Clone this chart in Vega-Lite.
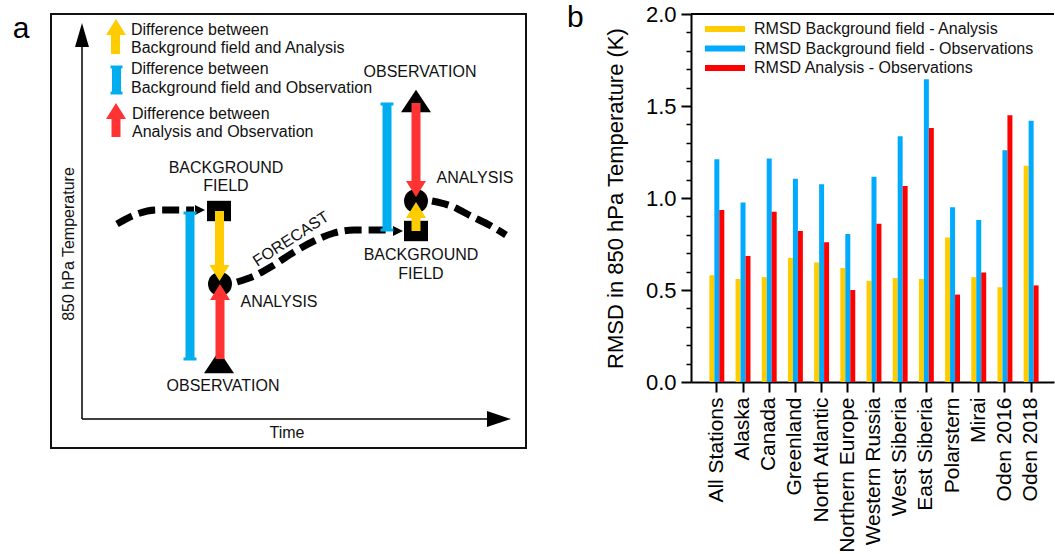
{
  "$schema": "https://vega.github.io/schema/vega-lite/v6.json",
  "background": "white",
  "padding": {"left": 11, "top": 3, "right": 0, "bottom": 0},
  "config": {
    "font": "Liberation Sans",
    "view": {"stroke": null},
    "axis": {"labelColor": "#000", "titleColor": "#000", "domainColor": "#000", "tickColor": "#000"}
  },
  "spacing": 165,
  "bounds": "flush",
  "resolve": {"scale": {"color": "independent"}, "legend": {"color": "independent"}},
  "hconcat": [
    {
      "width": 475,
      "height": 434,
      "view": {"stroke": "#111", "strokeWidth": 2},
      "title": {"text": "a", "orient": "left", "anchor": "end", "angle": 0, "fontSize": 30, "fontWeight": "normal", "offset": 5, "align": "right", "baseline": "top", "color": "#000"},
      "data": {"values": [
        {"kind": "axis", "x": 31, "y": 29, "x2": 31, "y2": 401},
        {"kind": "axis", "x": 31, "y": 29, "x2": 437, "y2": 29},
        {"kind": "headUp", "x": 31, "y": 413},
        {"kind": "headRight", "x": 448, "y": 29},
        {"kind": "curve", "seg": 1, "i": 1, "x": 66, "y": 224},
        {"kind": "curve", "seg": 1, "i": 2, "x": 86, "y": 234},
        {"kind": "curve", "seg": 1, "i": 3, "x": 106, "y": 238},
        {"kind": "curve", "seg": 1, "i": 4, "x": 133, "y": 238},
        {"kind": "curve", "seg": 1, "i": 5, "x": 143, "y": 238},
        {"kind": "curve", "seg": 2, "i": 1, "x": 186, "y": 166},
        {"kind": "curve", "seg": 2, "i": 2, "x": 203, "y": 172},
        {"kind": "curve", "seg": 2, "i": 3, "x": 223, "y": 183},
        {"kind": "curve", "seg": 2, "i": 4, "x": 243, "y": 196},
        {"kind": "curve", "seg": 2, "i": 5, "x": 263, "y": 207},
        {"kind": "curve", "seg": 2, "i": 6, "x": 283, "y": 215},
        {"kind": "curve", "seg": 2, "i": 7, "x": 303, "y": 218},
        {"kind": "curve", "seg": 2, "i": 8, "x": 338, "y": 218},
        {"kind": "curve", "seg": 3, "i": 1, "x": 381, "y": 247},
        {"kind": "curve", "seg": 3, "i": 2, "x": 400, "y": 242},
        {"kind": "curve", "seg": 3, "i": 3, "x": 420, "y": 232},
        {"kind": "curve", "seg": 3, "i": 4, "x": 440, "y": 222},
        {"kind": "curve", "seg": 3, "i": 5, "x": 455, "y": 213},
        {"kind": "curveHead", "x": 149, "y": 238},
        {"kind": "curveHead", "x": 347, "y": 217},
        {"kind": "square", "x": 168, "y": 237},
        {"kind": "square", "x": 365, "y": 217},
        {"kind": "circle", "x": 169, "y": 164},
        {"kind": "circle", "x": 365, "y": 247},
        {"kind": "obs", "x": 168, "y": 86},
        {"kind": "obs", "x": 365, "y": 347},
        {"kind": "shaft", "diff": "BA", "x": 64.5, "y": 394, "y2": 421},
        {"kind": "shaft", "diff": "BO", "x": 65.5, "y": 355, "y2": 381},
        {"kind": "shaft", "diff": "AO", "x": 65, "y": 311, "y2": 337},
        {"kind": "shaft", "diff": "BO", "x": 139, "y": 89, "y2": 235},
        {"kind": "shaft", "diff": "BA", "x": 168.5, "y": 180, "y2": 237},
        {"kind": "shaft", "diff": "AO", "x": 169, "y": 89, "y2": 156},
        {"kind": "shaft", "diff": "BO", "x": 336, "y": 218, "y2": 344},
        {"kind": "shaft", "diff": "AO", "x": 365, "y": 262, "y2": 345},
        {"kind": "shaft", "diff": "BA", "x": 365, "y": 217, "y2": 238},
        {"kind": "cap", "diff": "BO", "x": 59.5, "x2": 71.5, "y": 381},
        {"kind": "cap", "diff": "BO", "x": 59.5, "x2": 71.5, "y": 355},
        {"kind": "cap", "diff": "BO", "x": 132.5, "x2": 145.5, "y": 235},
        {"kind": "cap", "diff": "BO", "x": 132.5, "x2": 145.5, "y": 89},
        {"kind": "cap", "diff": "BO", "x": 329.5, "x2": 342.5, "y": 344},
        {"kind": "cap", "diff": "BO", "x": 329.5, "x2": 342.5, "y": 218},
        {"kind": "headU", "diff": "BA", "x": 65, "y": 421},
        {"kind": "headU", "diff": "AO", "x": 65, "y": 337},
        {"kind": "headU", "diff": "AO", "x": 169, "y": 156},
        {"kind": "headU", "diff": "BA", "x": 365, "y": 238},
        {"kind": "headD", "diff": "BA", "x": 168.5, "y": 175},
        {"kind": "headD", "diff": "AO", "x": 365, "y": 259},
        {"kind": "label", "text": "BACKGROUND", "x": 175, "y": 280},
        {"kind": "label", "text": "FIELD", "x": 175, "y": 262},
        {"kind": "label", "text": "ANALYSIS", "x": 228, "y": 146},
        {"kind": "label", "text": "OBSERVATION", "x": 172, "y": 62},
        {"kind": "label", "text": "OBSERVATION", "x": 369, "y": 376},
        {"kind": "label", "text": "ANALYSIS", "x": 424, "y": 270},
        {"kind": "label", "text": "BACKGROUND", "x": 370, "y": 193},
        {"kind": "label", "text": "FIELD", "x": 370, "y": 174},
        {"kind": "label", "text": "Time", "x": 236, "y": 15},
        {"kind": "legendText", "text": "Difference between", "x": 80, "y": 418},
        {"kind": "legendText", "text": "Background field and Analysis", "x": 80, "y": 400},
        {"kind": "legendText", "text": "Difference between", "x": 80, "y": 379},
        {"kind": "legendText", "text": "Background field and Observation", "x": 80, "y": 360},
        {"kind": "legendText", "text": "Difference between", "x": 81, "y": 334},
        {"kind": "legendText", "text": "Analysis and Observation", "x": 81, "y": 316},
        {"kind": "yTitle", "text": "850 hPa Temperature", "x": 18, "y": 204},
        {"kind": "forecast", "text": "FORECAST", "x": 240, "y": 209}
      ]},
      "encoding": {
        "x": {"field": "x", "type": "quantitative", "scale": {"domain": [0, 475], "nice": false, "zero": false}, "axis": null},
        "y": {"field": "y", "type": "quantitative", "scale": {"domain": [0, 434], "nice": false, "zero": false}, "axis": null}
      },
      "layer": [
        {"transform": [{"filter": "datum.kind === 'axis'"}], "mark": {"type": "rule", "color": "#000", "strokeWidth": 1.5}, "encoding": {"x2": {"field": "x2"}, "y2": {"field": "y2"}}},
        {"transform": [{"filter": "datum.kind === 'headUp'"}], "mark": {"type": "point", "shape": "M-0.58,1L0,-1L0.58,1Z", "size": 576, "filled": true, "color": "#000", "opacity": 1}},
        {"transform": [{"filter": "datum.kind === 'headRight'"}], "mark": {"type": "point", "shape": "M-1,-0.67L1,0L-1,0.67Z", "size": 576, "filled": true, "color": "#000", "opacity": 1}},
        {"transform": [{"filter": "datum.kind === 'curve'"}], "mark": {"type": "line", "color": "#000", "strokeWidth": 7, "strokeDash": [17, 7], "strokeCap": "butt", "interpolate": "monotone"}, "encoding": {"detail": {"field": "seg", "type": "nominal"}, "order": {"field": "i", "type": "quantitative"}}},
        {"transform": [{"filter": "datum.kind === 'curveHead'"}], "mark": {"type": "point", "shape": "M-1,-1L1,0L-1,1Z", "size": 100, "filled": true, "color": "#000", "opacity": 1}},
        {"transform": [{"filter": "datum.kind === 'square'"}], "mark": {"type": "point", "shape": "M-1,-0.85L1,-0.85L1,0.85L-1,0.85Z", "size": 576, "filled": true, "color": "#000", "opacity": 1}},
        {"transform": [{"filter": "datum.kind === 'circle'"}], "mark": {"type": "point", "shape": "circle", "size": 573, "filled": true, "color": "#000", "opacity": 1}},
        {"transform": [{"filter": "datum.kind === 'obs'"}], "mark": {"type": "point", "shape": "M-1,0.75L0,-0.75L1,0.75Z", "size": 900, "filled": true, "color": "#000", "opacity": 1}},
        {"transform": [{"filter": "datum.kind === 'shaft'"}], "mark": {"type": "rule", "strokeWidth": 9}, "encoding": {"y2": {"field": "y2"}, "color": {"field": "diff", "type": "nominal", "scale": {"domain": ["BA", "BO", "AO"], "range": ["#FFCC00", "#00AEEF", "#FF3333"]}, "legend": null}}},
        {"transform": [{"filter": "datum.kind === 'cap'"}], "mark": {"type": "rule", "strokeWidth": 3}, "encoding": {"x2": {"field": "x2"}, "color": {"field": "diff", "type": "nominal", "legend": null}}},
        {"transform": [{"filter": "datum.kind === 'headU'"}], "mark": {"type": "point", "shape": "M-1,0.8L0,-0.8L1,0.8Z", "size": 400, "filled": true, "opacity": 1}, "encoding": {"color": {"field": "diff", "type": "nominal", "legend": null}}},
        {"transform": [{"filter": "datum.kind === 'headD'"}], "mark": {"type": "point", "shape": "M-1,-0.8L0,0.8L1,-0.8Z", "size": 400, "filled": true, "opacity": 1}, "encoding": {"color": {"field": "diff", "type": "nominal", "legend": null}}},
        {"transform": [{"filter": "datum.kind === 'label'"}], "mark": {"type": "text", "fontSize": 16, "color": "#111", "align": "center", "baseline": "middle"}, "encoding": {"text": {"field": "text"}}},
        {"transform": [{"filter": "datum.kind === 'legendText'"}], "mark": {"type": "text", "fontSize": 16, "color": "#111", "align": "left", "baseline": "middle"}, "encoding": {"text": {"field": "text"}}},
        {"transform": [{"filter": "datum.kind === 'yTitle'"}], "mark": {"type": "text", "fontSize": 16, "color": "#111", "align": "center", "baseline": "middle", "angle": 270}, "encoding": {"text": {"field": "text"}}},
        {"transform": [{"filter": "datum.kind === 'forecast'"}], "mark": {"type": "text", "fontSize": 16, "color": "#111", "align": "center", "baseline": "middle", "angle": 327}, "encoding": {"text": {"field": "text"}}}
      ]
    },
    {
      "width": 363,
      "height": 368,
      "title": {"text": "b", "orient": "left", "anchor": "end", "angle": 0, "fontSize": 30, "fontWeight": "normal", "offset": 4, "align": "right", "baseline": "top", "color": "#000"},
      "resolve": {"axis": {"y": "independent"}},
      "layer": [
        {
          "data": {"values": [
            {"station": "All Stations", "RMSD Background field - Analysis": 0.58, "RMSD Background field - Observations": 1.21, "RMSD Analysis - Observations": 0.935},
            {"station": "Alaska", "RMSD Background field - Analysis": 0.56, "RMSD Background field - Observations": 0.975, "RMSD Analysis - Observations": 0.685},
            {"station": "Canada", "RMSD Background field - Analysis": 0.57, "RMSD Background field - Observations": 1.215, "RMSD Analysis - Observations": 0.925},
            {"station": "Greenland", "RMSD Background field - Analysis": 0.675, "RMSD Background field - Observations": 1.105, "RMSD Analysis - Observations": 0.82},
            {"station": "North Atlantic", "RMSD Background field - Analysis": 0.65, "RMSD Background field - Observations": 1.075, "RMSD Analysis - Observations": 0.76},
            {"station": "Northern Europe", "RMSD Background field - Analysis": 0.62, "RMSD Background field - Observations": 0.805, "RMSD Analysis - Observations": 0.5},
            {"station": "Western Russia", "RMSD Background field - Analysis": 0.55, "RMSD Background field - Observations": 1.115, "RMSD Analysis - Observations": 0.86},
            {"station": "West Siberia", "RMSD Background field - Analysis": 0.565, "RMSD Background field - Observations": 1.335, "RMSD Analysis - Observations": 1.065},
            {"station": "East Siberia", "RMSD Background field - Analysis": 0.56, "RMSD Background field - Observations": 1.645, "RMSD Analysis - Observations": 1.38},
            {"station": "Polarstern", "RMSD Background field - Analysis": 0.785, "RMSD Background field - Observations": 0.95, "RMSD Analysis - Observations": 0.475},
            {"station": "Mirai", "RMSD Background field - Analysis": 0.57, "RMSD Background field - Observations": 0.88, "RMSD Analysis - Observations": 0.595},
            {"station": "Oden 2016", "RMSD Background field - Analysis": 0.515, "RMSD Background field - Observations": 1.26, "RMSD Analysis - Observations": 1.45},
            {"station": "Oden 2018", "RMSD Background field - Analysis": 1.175, "RMSD Background field - Observations": 1.42, "RMSD Analysis - Observations": 0.525}
          ]},
          "transform": [{"fold": ["RMSD Background field - Analysis", "RMSD Background field - Observations", "RMSD Analysis - Observations"], "as": ["series", "value"]}],
          "mark": {"type": "bar"},
          "encoding": {
            "x": {"field": "station", "type": "nominal", "sort": null,
                  "scale": {"paddingInner": 0.43, "paddingOuter": 0.645, "align": 0.544},
                  "axis": {"title": null, "labelAngle": -90, "labelFontSize": 21, "labelPadding": 5, "tickSize": 10, "tickWidth": 2, "domainWidth": 2, "labelColor": "#000"}},
            "xOffset": {"field": "series", "type": "nominal", "sort": ["RMSD Background field - Analysis", "RMSD Background field - Observations", "RMSD Analysis - Observations"]},
            "y": {"field": "value", "type": "quantitative", "scale": {"domain": [0, 2], "nice": false},
                  "axis": {"orient": "left", "title": "RMSD in 850 hPa Temperature (K)", "titleFontSize": 22, "titleFontWeight": "normal", "titlePadding": 18,
                           "values": [0, 0.5, 1, 1.5, 2], "format": ".1f",
                           "labelFontSize": 22, "labelPadding": 5, "grid": false, "domainWidth": 2, "labelOverlap": false, "labelFlush": false,
                           "tickSize": 10, "tickWidth": 2}},
            "color": {"field": "series", "type": "nominal",
                      "sort": ["RMSD Background field - Analysis", "RMSD Background field - Observations", "RMSD Analysis - Observations"],
                      "scale": {"domain": ["RMSD Background field - Analysis", "RMSD Background field - Observations", "RMSD Analysis - Observations"], "range": ["#FFCC00", "#00AAFF", "#FF0000"]},
                      "legend": {"orient": "none", "legendX": 41, "legendY": 7, "title": null, "direction": "vertical", "labelFontSize": 16, "labelColor": "#111",
                                 "symbolType": "M-7,-0.6L1,-0.6L1,0.6L-7,0.6Z", "symbolSize": 100, "symbolStrokeWidth": 0, "symbolOpacity": 1,
                                 "labelOffset": 6, "rowPadding": 3.5, "padding": 0, "labelLimit": 400}}
          }
        },
        {
          "data": {"values": [{}]},
          "mark": {"type": "rule", "color": "#000", "strokeWidth": 2},
          "encoding": {"y": {"datum": 2, "type": "quantitative",
                             "axis": {"orient": "left", "title": null, "labels": false, "domain": false, "grid": false,
                                      "values": [0.1, 0.2, 0.3, 0.4, 0.6, 0.7, 0.8, 0.9, 1.1, 1.2, 1.3, 1.4, 1.6, 1.7, 1.8, 1.9],
                                      "tickSize": 5, "tickWidth": 1.5}}}
        }
      ]
    }
  ]
}
